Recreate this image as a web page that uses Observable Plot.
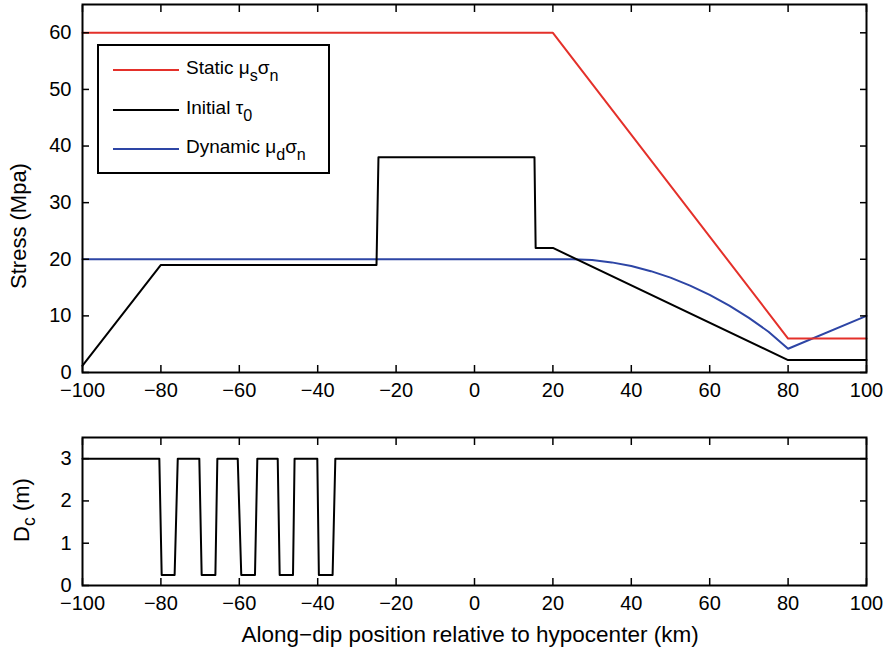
<!DOCTYPE html>
<html><head><meta charset="utf-8">
<script src="https://cdn.jsdelivr.net/npm/d3@7"></script>
<script src="https://cdn.jsdelivr.net/npm/@observablehq/plot@0.6"></script>
<style>
body{margin:0;background:#fff;}
#wrap{position:relative;width:885px;height:656px;font-family:"Liberation Sans",Arial,sans-serif;color:#000;}
#wrap svg{position:absolute;left:0;}
.lab{position:absolute;font-size:22px;white-space:nowrap;line-height:1;}
.lab.xl{font-size:22.5px;}
.lab sub{font-size:0.8em;vertical-align:-0.35em;line-height:0;}
#legend{position:absolute;left:97px;top:44px;width:229px;height:126px;border:2px solid #000;background:#fff;}
#legend .ln{position:absolute;left:14px;width:66px;height:2px;}
#legend .tx{position:absolute;left:87px;font-size:19px;line-height:1;white-space:nowrap;}
#legend .tx sub{font-size:0.85em;vertical-align:-0.45em;line-height:0;}
</style></head><body><div id="wrap"></div>
<script>
// ---- data ----
const xTicks = [-100, -80, -60, -40, -20, 0, 20, 40, 60, 80, 100];
const stressTicks = [0, 10, 20, 30, 40, 50, 60];
const dcTicks = [0, 1, 2, 3];

const staticX = [-100, 20, 80, 100];
const staticY = [60, 60, 6, 6];

const initialX = [-100, -80, -25, -24.5, 15.3, 15.6, 20, 80, 100];
const initialY = [1.2, 19, 19, 38, 38, 22, 22, 2.2, 2.2];

const dynamicX = [-100, 20, 25, 30, 35, 40, 45, 50, 55, 60, 65, 70, 75, 80, 100];
const dynamicY = [20, 20, 20, 19.85, 19.45, 18.8, 17.9, 16.75, 15.35, 13.7, 11.8, 9.65, 7.2, 4.2, 10];

const dcX = [-100, -80.4, -79.8, -76.5, -75.7, -70.2, -69.6, -66.1, -65.6, -60.4, -59.5, -56, -55.4, -50.2, -49.7, -46.3, -45.9, -40.1, -39.7, -36.2, -35.5, 100];
const dcY = [3, 3, 0.25, 0.25, 3, 3, 0.25, 0.25, 3, 3, 0.25, 0.25, 3, 3, 0.25, 0.25, 3, 3, 0.25, 0.25, 3, 3];

const seriesColors = {static: "#e4302a", initial: "#000000", dynamic: "#2d45a5"};

// ---- build ----
const zip = (xs, ys) => xs.map((x, i) => ({x, y: ys[i]}));
const font = {fontSize: "20px", fontFamily: "'Liberation Sans', Arial, sans-serif", background: "transparent", overflow: "visible"};
const intFmt = d3.format("d");

function frameAxes(ticksY) {
  return [
    Plot.axisX({anchor: "bottom", ticks: xTicks, tickSize: 0, tickPadding: 10, label: null, tickFormat: intFmt}),
    Plot.axisX({anchor: "bottom", ticks: xTicks, tickSize: -7, tickFormat: () => "", label: null, strokeWidth: 1.5}),
    Plot.axisX({anchor: "top", ticks: xTicks, tickSize: -7, tickFormat: () => "", label: null, strokeWidth: 1.5}),
    Plot.axisY({anchor: "left", ticks: ticksY, tickSize: 0, tickPadding: 11, label: null, tickFormat: intFmt}),
    Plot.axisY({anchor: "left", ticks: ticksY, tickSize: -7, tickFormat: () => "", label: null, strokeWidth: 1.5}),
    Plot.axisY({anchor: "right", ticks: ticksY, tickSize: -7, tickFormat: () => "", label: null, strokeWidth: 1.5}),
    Plot.frame({stroke: "#000", strokeWidth: 2})
  ];
}

const stressPlot = Plot.plot({
  width: 885, height: 410,
  marginLeft: 82, marginRight: 19, marginTop: 4, marginBottom: 38,
  style: font,
  x: {domain: [-100, 100]},
  y: {domain: [0, 65]},
  marks: [
    Plot.line(zip(dynamicX, dynamicY), {x: "x", y: "y", stroke: seriesColors.dynamic, strokeWidth: 2}),
    Plot.line(zip(initialX, initialY), {x: "x", y: "y", stroke: seriesColors.initial, strokeWidth: 2}),
    Plot.line(zip(staticX, staticY), {x: "x", y: "y", stroke: seriesColors.static, strokeWidth: 2}),
    ...frameAxes(stressTicks)
  ]
});

const dcPlot = Plot.plot({
  width: 885, height: 246,
  marginLeft: 82, marginRight: 19, marginTop: 27, marginBottom: 71,
  style: font,
  x: {domain: [-100, 100]},
  y: {domain: [0, 3.5]},
  marks: [
    Plot.line(zip(dcX, dcY), {x: "x", y: "y", stroke: "#000", strokeWidth: 2}),
    ...frameAxes(dcTicks)
  ]
});

const wrap = document.getElementById("wrap");
stressPlot.style.top = "0px";
dcPlot.style.top = "410px";
wrap.appendChild(stressPlot);
wrap.appendChild(dcPlot);

// legend
const legendItems = [
  {color: seriesColors.static, html: "Static μ<sub>s</sub>σ<sub>n</sub>", y: 24},
  {color: seriesColors.initial, html: "Initial τ<sub>0</sub>", y: 64},
  {color: seriesColors.dynamic, html: "Dynamic μ<sub>d</sub>σ<sub>n</sub>", y: 103}
];
const lg = document.createElement("div");
lg.id = "legend";
for (const it of legendItems) {
  const ln = document.createElement("div");
  ln.className = "ln"; ln.style.top = (it.y - 1) + "px"; ln.style.background = it.color;
  const tx = document.createElement("div");
  tx.className = "tx"; tx.style.top = (it.y - 12) + "px"; tx.innerHTML = it.html;
  lg.appendChild(ln); lg.appendChild(tx);
}
wrap.appendChild(lg);

// axis labels
function addLabel(html, cx, cy, rot, cls) {
  const d = document.createElement("div");
  d.className = "lab" + (cls ? " " + cls : ""); d.innerHTML = html;
  wrap.appendChild(d);
  const w = d.offsetWidth, h = d.offsetHeight;
  d.style.left = (cx - w / 2) + "px";
  d.style.top = (cy - h / 2) + "px";
  if (rot) d.style.transform = "rotate(-90deg)";
}
addLabel("Stress (Mpa)", 19, 226, true);
addLabel("D<sub>c</sub> (m)", 22, 510, true);
addLabel("Along−dip position relative to hypocenter (km)", 470, 635, false, "xl");
</script></body></html>
